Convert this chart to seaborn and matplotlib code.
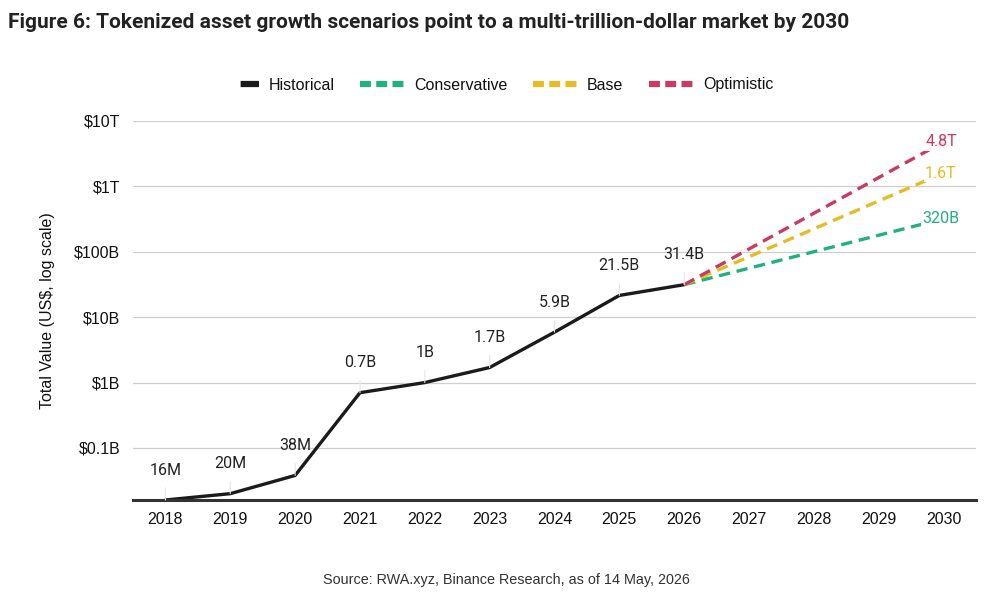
import matplotlib
matplotlib.use("Agg")
import matplotlib.pyplot as plt
import seaborn as sns
import pandas as pd
from matplotlib.lines import Line2D

# ---------------- data ----------------
hist_years = [2018, 2019, 2020, 2021, 2022, 2023, 2024, 2025, 2026]
hist_values = [16e6, 20e6, 38e6, 0.7e9, 1e9, 1.7e9, 5.9e9, 21.5e9, 31.4e9]
hist_labels = ["16M", "20M", "38M", "0.7B", "1B", "1.7B", "5.9B", "21.5B", "31.4B"]

scen_years = [2026, 2030]
conservative = [31.4e9, 320e9]
base = [31.4e9, 1.6e12]
optimistic = [31.4e9, 4.8e12]
end_labels = {"Conservative": "320B", "Base": "1.6T", "Optimistic": "4.8T"}

all_years = list(range(2018, 2031))
ytick_values = [1e8, 1e9, 1e10, 1e11, 1e12, 1e13]
ytick_labels = ["$0.1B", "$1B", "$10B", "$100B", "$1T", "$10T"]

series_names = ["Historical", "Conservative", "Base", "Optimistic"]
colors = {"Historical": "#1c1a1a", "Conservative": "#22b07f",
          "Base": "#e4bd26", "Optimistic": "#c83b63"}

rows = []
for y, v in zip(hist_years, hist_values):
    rows.append(("Historical", y, v))
for name, vals in [("Conservative", conservative), ("Base", base), ("Optimistic", optimistic)]:
    for y, v in zip(scen_years, vals):
        rows.append((name, y, v))
df = pd.DataFrame(rows, columns=["series", "year", "value"])

# ---------------- style ----------------
sns.set_theme(style="white")
plt.rcParams["font.family"] = ["Liberation Sans", "DejaVu Sans"]

fig = plt.figure(figsize=(9.92, 5.98), dpi=100)
ax = fig.add_axes([133 / 992, 1 - 500 / 598, (976 - 133) / 992, (500 - 121) / 598])

dash_map = {"Historical": "", "Conservative": (3.4, 2.0),
            "Base": (3.4, 2.0), "Optimistic": (3.4, 2.0)}
sns.lineplot(data=df, x="year", y="value", hue="series", style="series",
             hue_order=series_names, style_order=series_names,
             palette=colors, dashes=dash_map, linewidth=2.4,
             legend=False, ax=ax, sort=True)

ax.set_yscale("log")
ax.set_ylim(16e6, 1e13)
ax.set_xlim(2017.5, 2030.5)
ax.set_xticks(all_years)
ax.set_xticklabels([str(y) for y in all_years])
ax.set_yticks(ytick_values)
ax.set_yticklabels(ytick_labels)
ax.yaxis.set_minor_locator(matplotlib.ticker.NullLocator())
ax.tick_params(axis="both", length=0, labelsize=11.5, colors="#111111")
ax.tick_params(axis="y", pad=9)
ax.tick_params(axis="x", pad=9)
ax.grid(axis="y", color="#cfcfcf", linewidth=0.9)
ax.set_axisbelow(True)
for s in ["top", "left", "right"]:
    ax.spines[s].set_visible(False)
ax.spines["bottom"].set_color("#333333")
ax.spines["bottom"].set_linewidth(2.2)
ax.set_xlabel("")
ax.set_ylabel("Total Value (US$, log scale)", fontsize=11.5, color="#111111", labelpad=14)

# historical labels with faint leader lines
for y, v, lab in zip(hist_years, hist_values, hist_labels):
    ax.annotate(lab, xy=(y, v), xytext=(0, 21.5), textcoords="offset points",
                ha="center", va="center", fontsize=11.5, color="#222222",
                family=["Roboto", "DejaVu Sans"],
                arrowprops=dict(arrowstyle="-", color="#e6e6e6", lw=0.8,
                                shrinkA=5, shrinkB=0))

# scenario end labels
for name, vals in [("Conservative", conservative), ("Base", base), ("Optimistic", optimistic)]:
    ax.text(scen_years[-1] - 0.04, vals[-1], end_labels[name], ha="center", va="center",
            fontsize=11.5, color=colors[name], family=["Roboto", "DejaVu Sans"],
            bbox=dict(facecolor="white", edgecolor="none", pad=1.0, alpha=0.9))

# legend
handles = []
for n in series_names:
    if n == "Historical":
        ls = (9.2, (3.3, 10.0))
    else:
        ls = (0, (1.75, 0.85))
    handles.append(Line2D([0], [0], color=colors[n], lw=4.5, linestyle=ls))
fig.legend(handles, series_names, loc="center", bbox_to_anchor=(494 / 992, 1 - 85 / 598),
           ncol=4, frameon=False, fontsize=11.5, handlelength=2.8, columnspacing=1.57,
           handletextpad=0.6, labelcolor="#111111")

# title and source
fig.text(8 / 992, 1 - 22 / 598,
         "Figure 6: Tokenized asset growth scenarios point to a multi-trillion-dollar market by 2030",
         ha="left", va="center", fontsize=15.0, fontweight="bold", color="#222222",
         family=["Roboto", "DejaVu Sans"])
fig.text(506 / 992, 1 - 580 / 598, "Source: RWA.xyz, Binance Research, as of 14 May, 2026",
         ha="center", va="center", fontsize=10.4, color="#333333")

fig.savefig("out.png", dpi=100, facecolor="white")
